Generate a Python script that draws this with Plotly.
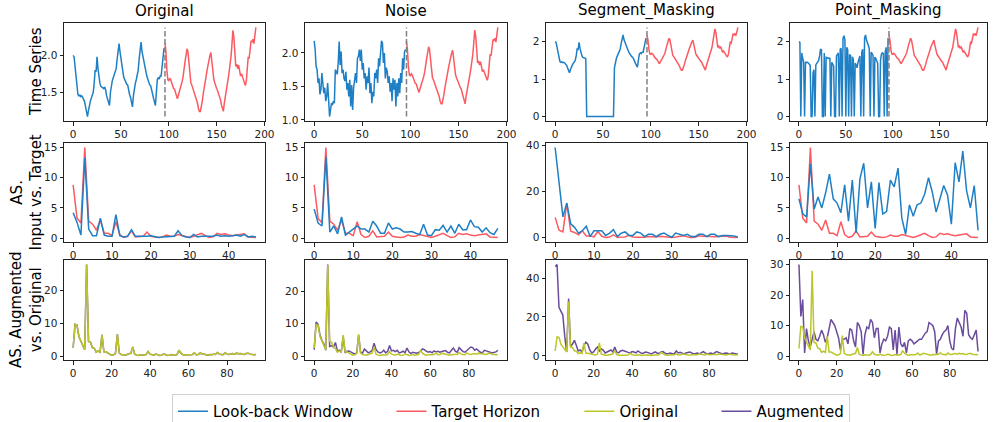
import plotly.graph_objects as go

# ---------------- data ----------------
orig_lookback = [2.00, 1.98, 1.85, 1.70, 1.55, 1.47, 1.45, 1.46, 1.44, 1.45,
                 1.43, 1.40, 1.37, 1.30, 1.22, 1.17, 1.25, 1.33, 1.38, 1.42,
                 1.46, 1.50, 1.62, 1.80, 1.78, 1.98, 1.82, 1.70, 1.62, 1.58,
                 1.57, 1.56, 1.55, 1.57, 1.53, 1.45, 1.40, 1.35, 1.32, 1.50,
                 1.62, 1.66, 1.70, 1.75, 1.80, 1.82, 1.95, 2.08, 2.16, 2.05,
                 1.93, 1.85, 1.78, 1.70, 1.66, 1.63, 1.61, 1.60, 1.52, 1.47,
                 1.43, 1.38, 1.30, 1.45, 1.55, 1.62, 1.67, 1.72, 1.80, 1.95,
                 2.10, 2.18, 2.05, 1.98, 1.90, 1.82, 1.76, 1.72, 1.68, 1.63,
                 1.60, 1.59, 1.55, 1.48, 1.42, 1.36, 1.32, 1.50, 1.67, 1.70,
                 1.68, 1.72, 1.72, 1.85, 2.05, 2.10]
orig_target = [2.17, 2.05, 1.80, 1.67, 1.66, 1.69, 1.67, 1.62, 1.58, 1.55,
               1.54, 1.50, 1.45, 1.41, 1.46, 1.50, 1.55, 1.59, 1.65, 1.72,
               1.85, 1.92, 2.00, 2.09, 2.05, 1.90, 1.72, 1.63, 1.60, 1.56,
               1.52, 1.50, 1.45, 1.40, 1.35, 1.28, 1.24, 1.24, 1.30, 1.38,
               1.48, 1.58, 1.66, 1.72, 1.80, 1.88, 1.95, 2.00, 2.04, 1.90,
               1.75, 1.68, 1.63, 1.58, 1.55, 1.52, 1.48, 1.46, 1.40, 1.33,
               1.28, 1.24, 1.35, 1.45, 1.50, 1.60, 1.68, 1.77, 1.85, 1.98,
               2.15, 2.34, 2.25, 2.00, 1.85, 1.88, 1.82, 1.87, 1.80, 1.72,
               1.75, 1.70, 1.68, 1.62, 1.59, 1.65, 1.85, 1.98, 1.96, 2.10,
               2.20, 2.18, 2.22, 2.16, 2.30, 2.38]
noise_lookback = [2.18, 2.05, 1.80, 1.75, 1.55, 1.62, 1.38, 1.45, 1.70, 1.52,
                  1.40, 1.48, 1.28, 1.35, 1.55, 1.30, 1.05, 1.15, 1.25, 1.22,
                  1.28, 1.25, 1.75, 1.72, 1.68, 1.85, 2.17, 1.82, 2.02, 1.70,
                  1.75, 1.62, 1.58, 1.72, 1.45, 1.55, 1.35, 1.60, 1.20, 1.52,
                  1.15, 1.48, 1.62, 1.70, 1.55, 1.92, 1.95, 2.05, 1.88, 2.05,
                  1.75, 1.85, 1.62, 1.70, 1.45, 1.65, 1.55, 1.78, 1.40, 1.55,
                  1.25, 1.42, 1.35, 1.70, 1.62, 1.75, 1.55, 1.92, 1.80, 2.05,
                  2.18, 2.15, 1.85, 2.00, 1.62, 1.78, 1.72, 1.55, 1.65, 1.42,
                  1.55, 1.28, 1.62, 1.45, 1.60, 1.20, 1.55, 1.35, 1.62, 1.40,
                  1.70, 1.55, 1.92, 1.75, 2.02, 2.05]
segment_mask_start, segment_mask_end = 33, 61
point_mask_idx = [2, 6, 13, 14, 17, 25, 26, 28, 34, 38, 39, 43, 46, 50, 53,
                  56, 59, 66, 69, 76, 80, 85, 86, 91, 94]

# amplitude spectra, row 2 (input vs target)
target_spec = [8.8, 3.3, 2.5, 15.0, 2.8, 2.3, 1.3, 3.0, 0.8, 0.8,
               0.4, 2.7, 0.6, 0.1, 0.3, 1.2, 0.2, 0.3, 0.3, 1.0,
               0.3, 0.2, 0.1, 0.2, 0.5, 0.3, 0.3, 0.6, 0.4, 0.3,
               0.1, 0.3, 0.5, 0.8, 0.4, 0.1, 0.2, 0.8, 0.6, 0.7,
               0.5, 0.4, 0.5, 0.6, 0.7, 0.2, 0.2, 0.1]
input_spec_original = [4.2, 2.6, 0.5, 13.3, 1.5, 0.4, 0.4, 3.3, 0.5, 0.3,
                       0.3, 3.9, 0.4, 0.2, 0.3, 1.4, 0.3, 0.3, 0.2, 0.3,
                       0.4, 0.3, 0.1, 0.2, 0.2, 0.2, 0.3, 1.2, 0.4, 0.2,
                       0.1, 0.6, 0.2, 0.3, 0.3, 0.2, 0.3, 0.5, 0.3, 0.4,
                       0.3, 0.4, 0.5, 0.3, 0.6, 0.2, 0.3, 0.2]
input_spec_noise = [4.8, 2.5, 2.0, 13.5, 1.0, 2.0, 0.7, 3.5, 0.5, 1.0,
                    1.5, 2.0, 1.5, 1.5, 1.0, 2.8, 2.0, 0.8, 0.8, 2.5,
                    1.5, 1.7, 1.5, 1.0, 1.0, 1.1, 0.8, 0.6, 2.3, 0.5,
                    0.4, 1.4, 1.3, 2.1, 1.0, 2.0, 0.8, 2.3, 1.4, 1.4,
                    3.0, 1.9, 1.8, 1.0, 1.7, 0.9, 0.6, 1.6]
input_spec_segment = [39.0, 25.0, 9.0, 15.0, 6.0, 4.5, 2.0, 3.0, 5.0, 0.5,
                      3.0, 3.0, 3.0, 1.0, 2.0, 3.5, 0.5, 2.0, 2.5, 1.0,
                      1.0, 2.5, 2.0, 0.5, 1.5, 1.5, 0.5, 1.5, 2.0, 1.0,
                      0.2, 2.0, 1.5, 1.0, 1.5, 0.5, 0.5, 1.5, 1.5, 0.5,
                      1.5, 1.5, 0.5, 1.0, 1.0, 1.0, 0.8, 0.3]
input_spec_point = [6.5, 4.0, 3.5, 12.3, 4.8, 6.8, 5.0, 7.5, 10.6, 6.5,
                    5.8, 4.2, 8.8, 2.8, 9.6, 0.9, 9.8, 12.4, 5.0, 9.3,
                    1.6, 9.2, 4.0, 4.4, 9.6, 8.5, 11.6, 3.3, 0.6, 5.5,
                    3.6, 5.5, 5.8, 7.3, 10.0, 7.6, 4.3, 6.6, 8.7, 7.1,
                    2.3, 12.5, 9.3, 14.4, 7.8, 5.0, 8.7, 1.3]

# amplitude spectra, row 3 (augmented vs original)
orig_full_spec = [2.5, 9.7, 9.5, 6.0, 4.6, 3.5, 2.0, 28.0, 4.5, 4.3,
                  2.6, 2.4, 1.2, 1.6, 1.2, 6.5, 1.3, 1.3, 1.0, 0.6,
                  0.3, 0.4, 0.8, 6.7, 0.9, 0.5, 0.3, 0.3, 0.5, 0.6,
                  0.9, 2.8, 0.6, 0.3, 0.2, 0.4, 0.3, 0.3, 0.5, 1.4,
                  0.6, 0.4, 0.3, 0.6, 0.3, 0.2, 0.3, 0.6, 0.5, 0.2,
                  0.3, 0.5, 0.3, 0.4, 0.5, 1.8, 0.9, 0.5, 0.3, 0.4,
                  0.3, 0.4, 0.5, 1.0, 0.4, 0.5, 0.9, 0.8, 0.6, 0.4,
                  0.3, 0.5, 0.4, 0.6, 0.5, 1.1, 0.6, 0.5, 0.4, 1.0,
                  0.6, 0.5, 0.7, 0.8, 0.6, 0.9, 0.7, 0.8, 0.6, 0.5,
                  0.8, 0.9, 0.6, 0.4, 0.4, 0.5]
aug_spec_noise = [2.0, 10.5, 9.8, 6.5, 4.8, 3.8, 1.8, 28.2, 3.0, 3.2,
                  2.8, 4.2, 1.5, 1.8, 1.2, 6.0, 1.0, 1.5, 1.6, 1.2,
                  0.8, 0.6, 1.0, 6.5, 1.2, 0.9, 2.2, 1.5, 1.0, 1.3,
                  1.8, 4.0, 2.0, 1.3, 1.0, 1.2, 1.8, 1.0, 1.5, 3.3,
                  1.6, 1.8, 1.4, 1.8, 1.0, 1.2, 1.5, 1.0, 2.5, 1.3,
                  0.8, 1.2, 1.0, 0.9, 1.1, 1.5, 2.2, 2.0, 1.5, 1.2,
                  1.4, 1.0, 1.6, 1.3, 1.5, 1.2, 1.4, 1.6, 1.7, 1.2,
                  1.0, 1.8, 2.5, 1.5, 1.2, 2.6, 2.0, 1.4, 1.2, 1.8,
                  2.4, 2.8, 2.6, 1.8, 2.2, 1.6, 1.2, 1.0, 1.8, 1.6,
                  1.5, 1.2, 1.0, 1.1, 1.3, 1.8]
aug_spec_segment = [46.0, 47.0, 25.0, 23.0, 21.0, 10.0, 2.0, 29.5, 5.0, 6.0,
                    8.0, 5.5, 2.5, 3.0, 2.0, 5.5, 7.0, 6.0, 3.0, 1.5,
                    2.0, 3.5, 4.5, 2.5, 3.5, 3.0, 1.5, 2.0, 2.5, 3.0,
                    2.0, 4.5, 2.0, 1.5, 2.5, 2.8, 2.5, 2.0, 1.8, 1.5,
                    2.2, 2.0, 1.5, 2.5, 2.0, 1.2, 1.5, 2.0, 1.8, 1.2,
                    1.0, 1.5, 2.0, 1.5, 1.2, 2.0, 2.2, 1.5, 1.0, 1.2,
                    1.5, 1.0, 1.2, 2.5, 1.5, 1.8, 1.2, 1.0, 1.5, 1.8,
                    2.0, 1.5, 1.0, 1.2, 1.5, 1.0, 1.8, 2.2, 1.5, 1.0,
                    1.2, 1.5, 1.0, 1.5, 2.2, 1.8, 1.2, 1.0, 1.3, 1.5,
                    1.2, 1.0, 1.5, 1.2, 1.0, 0.8]
aug_spec_point = [30.0, 13.0, 18.5, 1.0, 9.0, 5.0, 3.0, 6.0, 8.0, 5.5,
                  5.0, 6.5, 8.5, 7.0, 4.5, 6.0, 9.5, 12.0, 11.0, 10.0,
                  8.0, 6.0, 2.0, 5.5, 5.5, 6.0, 4.0, 9.0, 8.5, 5.0,
                  3.0, 11.0, 10.0, 8.0, 0.5, 7.0, 9.5, 9.0, 12.0, 11.0,
                  6.0, 9.0, 9.0, 1.0, 4.0, 5.5, 5.0, 6.5, 9.5, 9.0,
                  2.0, 8.5, 0.5, 9.5, 4.0, 3.0, 4.5, 1.0, 5.0, 5.5,
                  5.0, 4.0, 4.5, 5.0, 5.5, 5.5, 6.5, 7.5, 8.0, 11.0,
                  10.5, 10.0, 8.0, 0.5, 5.0, 5.5, 7.0, 8.0, 8.5, 10.0,
                  5.0, 2.5, 2.0, 9.0, 12.5, 11.0, 9.5, 6.5, 15.0, 14.0,
                  7.0, 6.0, 5.5, 7.0, 8.5, 1.5]

col_titles = ["Original", "Noise", "Segment_Masking", "Point_Masking"]
row_titles = ["Time Series", "AS.<br>Input vs. Target", "AS. Augmented<br>vs. Original"]
legend_names = ["Look-back Window", "Target Horizon", "Original", "Augmented"]

# ---------------- derived look-back windows ----------------
seg_lookback = [0.0 if segment_mask_start <= i <= segment_mask_end else v
                for i, v in enumerate(orig_lookback)]
point_lookback = [0.0 if i in point_mask_idx else v for i, v in enumerate(orig_lookback)]
lookbacks = [orig_lookback, noise_lookback, seg_lookback, point_lookback]
input_specs = [input_spec_original, input_spec_noise, input_spec_segment, input_spec_point]
aug_specs = [orig_full_spec, aug_spec_noise, aug_spec_segment, aug_spec_point]

BLUE = "#1f7fc4"
RED = "#fb5a61"
OLIVE = "#bcc62a"
PURPLE = "#6a4c9c"
FONT = "DejaVu Sans"
LW = 1.5

W, H = 995, 422
ML, MR, MT, MB = 64, 8, 23, 62
PW, PH = W - ML - MR, H - MT - MB
col_px = [(64, 265), (305, 507), (546, 747), (790, 987)]
row_px = [(23, 121), (143, 242), (260, 360)]
xdom = [((a - ML) / PW, (b - ML) / PW) for a, b in col_px]
ydom = [((H - MB - b) / PH, (H - MB - a) / PH) for a, b in row_px]

ytick_step = [[0.5, 0.5, 1, 1], [5, 5, 20, 5], [10, 10, 20, 10]]
ytick_fmt = [[".1f", ".1f", "d", "d"], ["d"] * 4, ["d"] * 4]
xtick_step = [50, 10, 20]

PAD = "\u00a0" * 7
leg_labels = [legend_names[0] + PAD, legend_names[1] + PAD, legend_names[2] + PAD, legend_names[3]]


def mpl_range(vals):
    lo, hi = min(vals), max(vals)
    pad = 0.05 * (hi - lo)
    return [lo - pad, hi + pad]


fig = go.Figure()
layout = {}


def ax(r, c):
    i = r * 4 + c + 1
    return ("x" if i == 1 else f"x{i}"), ("y" if i == 1 else f"y{i}"), i


for c in range(4):
    lb = lookbacks[c]
    n = len(lb)
    # row 1: time series
    xa, ya, i = ax(0, c)
    x_lb = list(range(n))
    x_tg = list(range(n, n + len(orig_target)))
    fig.add_trace(go.Scatter(x=x_lb, y=lb, mode="lines", line=dict(color=BLUE, width=LW),
                             name=leg_labels[0], legendgroup="lb", showlegend=(c == 0),
                             legendrank=1, xaxis=xa, yaxis=ya))
    fig.add_trace(go.Scatter(x=x_tg, y=orig_target, mode="lines", line=dict(color=RED, width=LW),
                             name=leg_labels[1], legendgroup="tg", showlegend=(c == 0),
                             legendrank=2, xaxis=xa, yaxis=ya))
    allv = lb + orig_target
    fig.add_trace(go.Scatter(x=[n, n], y=[min(allv), max(allv)], mode="lines",
                             line=dict(color="#808080", width=LW, dash="5.5px,2.5px"),
                             showlegend=False, hoverinfo="skip", xaxis=xa, yaxis=ya))
    layout[f"xaxis{i}"] = dict(range=mpl_range(x_lb + x_tg), dtick=xtick_step[0], tick0=0)
    layout[f"yaxis{i}"] = dict(range=mpl_range(allv), dtick=ytick_step[0][c], tick0=0,
                               tickformat=ytick_fmt[0][c])

    # row 2: amplitude spectrum input vs target
    xa, ya, i = ax(1, c)
    sp = input_specs[c]
    xs = list(range(len(sp)))
    fig.add_trace(go.Scatter(x=list(range(len(target_spec))), y=target_spec, mode="lines",
                             line=dict(color=RED, width=LW), showlegend=False,
                             legendgroup="tg", xaxis=xa, yaxis=ya))
    fig.add_trace(go.Scatter(x=xs, y=sp, mode="lines", line=dict(color=BLUE, width=LW),
                             showlegend=False, legendgroup="lb", xaxis=xa, yaxis=ya))
    layout[f"xaxis{i}"] = dict(range=mpl_range(xs), dtick=xtick_step[1], tick0=0)
    layout[f"yaxis{i}"] = dict(range=mpl_range(sp + target_spec), dtick=ytick_step[1][c], tick0=0,
                               tickformat=ytick_fmt[1][c])

    # row 3: augmented vs original spectrum
    xa, ya, i = ax(2, c)
    asp = aug_specs[c]
    xs = list(range(len(asp)))
    fig.add_trace(go.Scatter(x=xs, y=asp, mode="lines", line=dict(color=PURPLE, width=LW),
                             name=leg_labels[3], legendgroup="aug", showlegend=(c == 0),
                             legendrank=4, xaxis=xa, yaxis=ya))
    fig.add_trace(go.Scatter(x=list(range(len(orig_full_spec))), y=orig_full_spec, mode="lines",
                             line=dict(color=OLIVE, width=LW), name=leg_labels[2],
                             legendgroup="orig", showlegend=(c == 0), legendrank=3,
                             xaxis=xa, yaxis=ya))
    layout[f"xaxis{i}"] = dict(range=mpl_range(xs), dtick=xtick_step[2], tick0=0)
    layout[f"yaxis{i}"] = dict(range=mpl_range(asp + orig_full_spec), dtick=ytick_step[2][c], tick0=0,
                               tickformat=ytick_fmt[2][c])

common = dict(showline=True, linecolor="#222222", linewidth=1, mirror=True, ticks="outside",
              ticklen=3.5, tickwidth=0.8, tickcolor="#222222", showgrid=False, zeroline=False,
              tickfont=dict(family=FONT, size=10.5, color="#222222"))
for r in range(3):
    for c in range(4):
        i = r * 4 + c + 1
        xa = layout[f"xaxis{i}"]
        ya = layout[f"yaxis{i}"]
        xa.update(common)
        ya.update(common)
        xa.update(domain=list(xdom[c]), anchor=("y" if i == 1 else f"y{i}"))
        ya.update(domain=list(ydom[r]), anchor=("x" if i == 1 else f"x{i}"))

annotations = []
for c, t in enumerate(col_titles):
    annotations.append(dict(text=t, xref="paper", yref="paper", x=sum(xdom[c]) / 2, y=1,
                            xanchor="center", yanchor="bottom", yshift=1, showarrow=False,
                            font=dict(family=FONT, size=15, color="black")))
row_title_x = [36, 26, 26]
for r, t in enumerate(row_titles):
    annotations.append(dict(text=t, xref="paper", yref="paper", x=(row_title_x[r] - ML) / PW,
                            y=sum(ydom[r]) / 2, xanchor="center", yanchor="middle",
                            textangle=-90, showarrow=False,
                            font=dict(family=FONT, size=15, color="black")))

fig.update_layout(
    width=W, height=H, margin=dict(l=ML, r=MR, t=MT, b=MB, autoexpand=False),
    paper_bgcolor="white", plot_bgcolor="white",
    font=dict(family=FONT, color="black"),
    annotations=annotations,
    legend=dict(orientation="h", x=(511 - ML) / PW, xanchor="center", y=(H - MB - 394) / PH,
                yanchor="top",
                font=dict(family=FONT, size=15, color="black"), bordercolor="#d0d0d0",
                borderwidth=1, bgcolor="white", traceorder="normal"),
    **layout,
)

fig.write_html("out.html", config={"displayModeBar": False},
               post_script="document.body.style.margin='0';document.body.style.overflow='hidden';")
